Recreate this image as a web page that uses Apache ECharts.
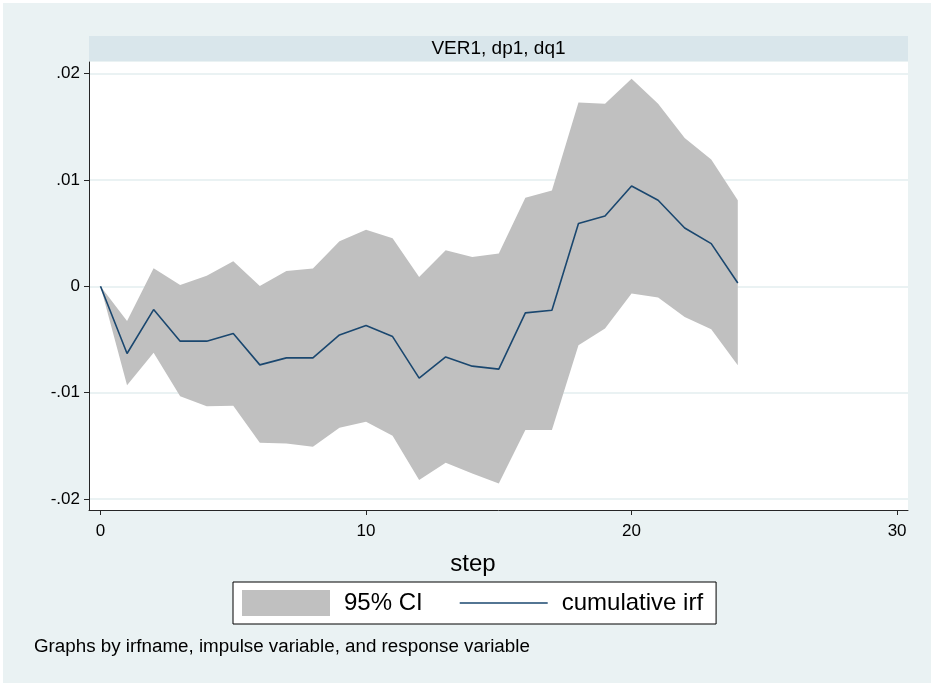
<!DOCTYPE html>
<html>
<head>
<meta charset="utf-8">
<style>
  html, body { margin: 0; padding: 0; background: #ffffff; }
  #chart { width: 931px; height: 683px; }
</style>
<script src="https://cdn.jsdelivr.net/npm/echarts@6/dist/echarts.min.js"></script>
</head>
<body>
<div id="chart"></div>
<script>
// Cumulative impulse response of dq1 to dp1 (VER1), with 95% band
const steps = [0, 1, 2, 3, 4, 5, 6, 7, 8, 9, 10, 11, 12, 13, 14, 15, 16, 17, 18, 19, 20, 21, 22, 23, 24];
const cumulativeIrf = [0, -0.00632, -0.00219, -0.00516, -0.00516, -0.00444, -0.00739, -0.00673, -0.00673,
  -0.00457, -0.00369, -0.00473, -0.00864, -0.00664, -0.00751, -0.00779, -0.00250, -0.00225,
  0.00589, 0.00660, 0.00942, 0.00808, 0.00548, 0.00401, 0.00031];
const ciUpper = [0, -0.00326, 0.00169, 0.00012, 0.00100, 0.00235, 0.00003, 0.00144, 0.00166,
  0.00423, 0.00532, 0.00451, 0.00088, 0.00338, 0.00275, 0.00307, 0.00833, 0.00901,
  0.01728, 0.01715, 0.01950, 0.01715, 0.01393, 0.01192, 0.00808];
const ciLower = [0, -0.00930, -0.00626, -0.01033, -0.01127, -0.01124, -0.01471, -0.01477, -0.01509,
  -0.01330, -0.01274, -0.01405, -0.01822, -0.01659, -0.01759, -0.01853, -0.01352, -0.01352,
  -0.00554, -0.00397, -0.00069, -0.00106, -0.00288, -0.00404, -0.00742];

const xTicks = [0, 10, 20, 30];
const yTicks = [-0.02, -0.01, 0, 0.01, 0.02];
const yTickLabels = ['-.02', '-.01', '0', '.01', '.02'];

const panelTitle = 'VER1, dp1, dq1';
const xTitle = 'step';
const ciName = '95% CI';
const irfName = 'cumulative irf';
const note = 'Graphs by irfname, impulse variable, and response variable';

const FONT = '"Liberation Sans", Arial, sans-serif';
const BG = '#eaf2f3';
const STRIP = '#d9e6eb';
const AXIS = '#262626';
const BAND = '#c0c0c0';
const LINE = '#1a476f';

const chart = echarts.init(document.getElementById('chart'), null, { renderer: 'canvas' });

function yLabel(v) {
  for (let i = 0; i < yTicks.length; i++) {
    if (Math.abs(yTicks[i] - v) < 1e-9) return yTickLabels[i];
  }
  return '';
}

const option = {
  backgroundColor: '#ffffff',
  animation: false,
  textStyle: { fontFamily: FONT, color: '#000' },
  graphic: [
    { type: 'rect', z: -100, silent: true,
      shape: { x: 3, y: 3, width: 928, height: 680 },
      style: { fill: BG } },
    { type: 'rect', z: -50, silent: true,
      shape: { x: 89, y: 36, width: 819, height: 25 },
      style: { fill: STRIP } },
    { type: 'text', z: -40, silent: true, x: 498.5, y: 48.5,
      style: { text: panelTitle, font: '19px ' + FONT, fill: '#000',
        textAlign: 'center', textVerticalAlign: 'middle' } },
    { type: 'text', silent: true, x: 34, y: 647,
      style: { text: note, font: '18.8px ' + FONT, fill: '#000',
        textAlign: 'left', textVerticalAlign: 'middle' } }
  ],
  grid: {
    left: 89, top: 62, right: 23, bottom: 173,
    show: true, backgroundColor: '#ffffff', borderWidth: 0
  },
  xAxis: {
    type: 'value', min: -0.433, max: 30.41,
    name: xTitle, nameLocation: 'middle', nameGap: 42,
    nameTextStyle: { fontSize: 24, color: '#000', fontFamily: FONT, padding: [0, 51, 0, 0] },
    axisLine: { show: true, onZero: false, lineStyle: { color: AXIS, width: 1 } },
    axisTick: { show: true, length: 5, customValues: xTicks, lineStyle: { color: AXIS } },
    axisLabel: { customValues: xTicks, fontSize: 17, color: '#000', margin: 13, fontFamily: FONT },
    splitLine: { show: false }
  },
  yAxis: {
    type: 'value', min: -0.02103, max: 0.02108,
    axisLine: { show: true, onZero: false, lineStyle: { color: AXIS, width: 1 } },
    axisTick: { show: true, length: 5, customValues: yTicks, lineStyle: { color: AXIS } },
    axisLabel: { customValues: yTicks, fontSize: 17, color: '#000', margin: 9,
      fontFamily: FONT, formatter: yLabel },
    splitLine: { show: false }
  },
  legend: {
    left: 233, top: 582,
    orient: 'horizontal',
    backgroundColor: '#ffffff',
    borderColor: '#000', borderWidth: 1, borderRadius: 0,
    padding: [8, 13, 8, 9],
    itemWidth: 88, itemHeight: 26, itemGap: 37,
    symbolKeepAspect: true,
    textStyle: { fontSize: 24, color: '#000', fontFamily: FONT, padding: [0, 0, 0, 9] },
    selectedMode: false,
    data: [
      { name: ciName, icon: 'rect' },
      { name: irfName, icon: 'path://M0,0H100V1.8H0Z', itemStyle: { color: LINE } }
    ]
  },
  series: [
    {
      // horizontal gridlines at the labelled y ticks, kept under the band
      name: 'grid', type: 'line', z: 0, silent: true,
      data: [], symbol: 'none',
      markLine: {
        z: 0, silent: true, symbol: 'none', animation: false,
        label: { show: false },
        lineStyle: { color: BG, width: 2, type: 'solid' },
        data: yTicks.map(v => ({ yAxis: v }))
      }
    },
    {
      name: ciName, type: 'custom', z: 2, silent: true,
      itemStyle: { color: BAND },
      data: steps.map((s, i) => [s, ciLower[i], ciUpper[i]]),
      encode: { x: 0, y: [1, 2] },
      renderItem: function (params, api) {
        if (params.dataIndex !== 0) return null;
        const pts = [];
        for (let i = 0; i < steps.length; i++) pts.push(api.coord([steps[i], ciUpper[i]]));
        for (let i = steps.length - 1; i >= 0; i--) pts.push(api.coord([steps[i], ciLower[i]]));
        return { type: 'polygon', shape: { points: pts }, style: { fill: BAND } };
      }
    },
    {
      name: irfName, type: 'line', z: 3, silent: true,
      symbol: 'none',
      lineStyle: { color: LINE, width: 1.6 },
      itemStyle: { color: LINE },
      data: steps.map((s, i) => [s, cumulativeIrf[i]])
    }
  ]
};

chart.setOption(option);
</script>
</body>
</html>
